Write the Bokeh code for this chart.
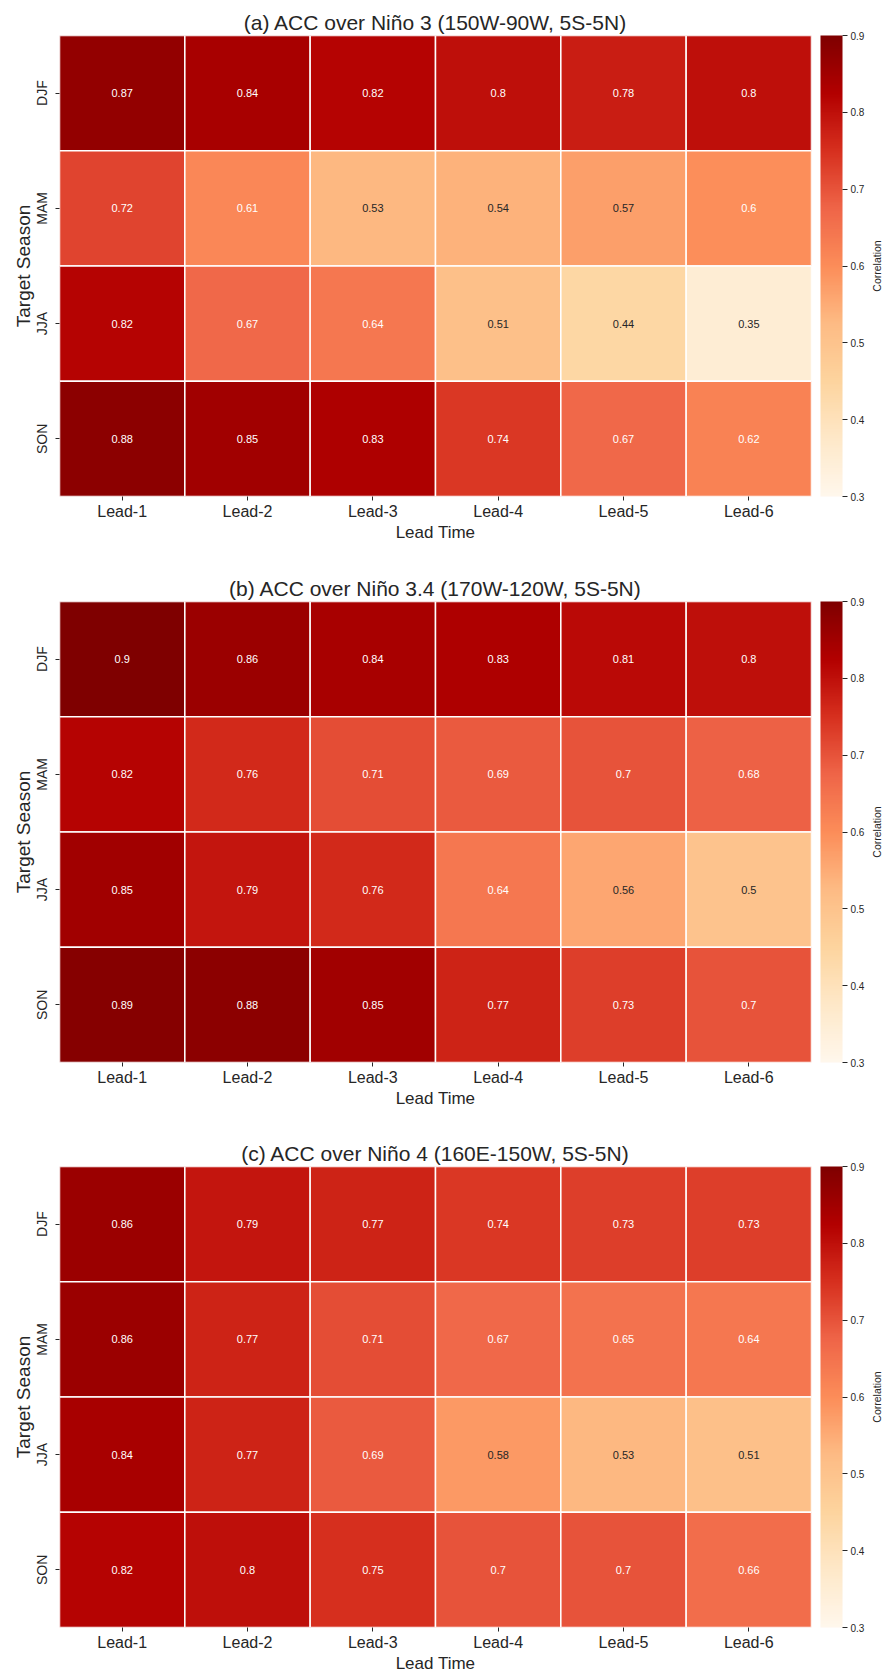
import numpy as np
from bokeh.plotting import figure
from bokeh.models import (ColumnDataSource, LinearColorMapper, ColorBar, FixedTicker, Range1d)
from bokeh.layouts import column, row
from bokeh.embed import file_html
from bokeh.resources import INLINE
from bokeh.core.properties import value

leads = ["Lead-1", "Lead-2", "Lead-3", "Lead-4", "Lead-5", "Lead-6"]
seasons = ["DJF", "MAM", "JJA", "SON"]

titles = [
    "(a) ACC over Niño 3 (150W-90W, 5S-5N)",
    "(b) ACC over Niño 3.4 (170W-120W, 5S-5N)",
    "(c) ACC over Niño 4 (160E-150W, 5S-5N)",
]

acc_nino3 = [
    [0.87, 0.84, 0.82, 0.80, 0.78, 0.80],
    [0.72, 0.61, 0.53, 0.54, 0.57, 0.60],
    [0.82, 0.67, 0.64, 0.51, 0.44, 0.35],
    [0.88, 0.85, 0.83, 0.74, 0.67, 0.62],
]
acc_nino34 = [
    [0.90, 0.86, 0.84, 0.83, 0.81, 0.80],
    [0.82, 0.76, 0.71, 0.69, 0.70, 0.68],
    [0.85, 0.79, 0.76, 0.64, 0.56, 0.50],
    [0.89, 0.88, 0.85, 0.77, 0.73, 0.70],
]
acc_nino4 = [
    [0.86, 0.79, 0.77, 0.74, 0.73, 0.73],
    [0.86, 0.77, 0.71, 0.67, 0.65, 0.64],
    [0.84, 0.77, 0.69, 0.58, 0.53, 0.51],
    [0.82, 0.80, 0.75, 0.70, 0.70, 0.66],
]
cbar_ticks = [0.3, 0.4, 0.5, 0.6, 0.7, 0.8, 0.9]
cbar_label = "Correlation"
vmin, vmax = 0.3, 0.9

# OrRd colormap (matplotlib-style, 256 steps)
base = ['#fff7ec', '#fee8c8', '#fdd49e', '#fdbb84', '#fc8d59',
        '#ef6548', '#d7301f', '#b30000', '#7f0000']
base_rgb = np.array([[int(h[i:i + 2], 16) / 255 for i in (1, 3, 5)] for h in base])
pos = np.linspace(0, 1, len(base))
t = np.linspace(0, 1, 256)
cm = np.stack([np.interp(t, pos, base_rgb[:, k]) for k in range(3)], axis=1)
palette = ['#%02x%02x%02x' % tuple(int(round(c * 255)) for c in r) for r in cm]


def cell_rgb(v):
    f = (v - vmin) / (vmax - vmin)
    idx = int(np.clip(np.floor(f * 255.999), 0, 255))
    return cm[idx]


def text_color(v):
    rgb = cell_rgb(v)
    lin = np.where(rgb <= 0.03928, rgb / 12.92, ((rgb + 0.055) / 1.055) ** 2.4)
    lum = 0.2126 * lin[0] + 0.7152 * lin[1] + 0.0722 * lin[2]
    return "#262626" if lum > 0.408 else "#ffffff"


FONT = "Liberation Sans"
TXT = "#262626"
FRAME_W, FRAME_H = 752, 461
LEFT, RIGHT = 59, 53


def make_panel(title, data, top_border, bottom_border):
    xs, ys, vals, labels, tcols = [], [], [], [], []
    for si, s in enumerate(seasons):
        for li, l in enumerate(leads):
            v = data[si][li]
            xs.append(l)
            ys.append(s)
            vals.append(v)
            labels.append(f"{v:g}")
            tcols.append(text_color(v))
    src = ColumnDataSource(dict(x=xs, y=ys, v=vals, label=labels, tc=tcols))
    mapper = LinearColorMapper(palette=palette, low=vmin, high=vmax)

    p = figure(x_range=leads, y_range=list(reversed(seasons)),
               frame_width=FRAME_W, frame_height=FRAME_H,
               min_border_left=LEFT, min_border_right=RIGHT,
               min_border_top=top_border, min_border_bottom=bottom_border,
               output_backend="svg", toolbar_location=None, tools="")
    p.rect(x="x", y="y", width=1, height=1, source=src,
           fill_color={"field": "v", "transform": mapper},
           line_color="white", line_width=1.5)
    p.text(x="x", y="y", text="label", source=src, text_color="tc",
           text_align="center", text_baseline="middle",
           text_font=value(FONT), text_font_size="11px")

    p.title.text = title
    p.title.align = "center"
    p.title.text_font = FONT
    p.title.text_font_size = "21px"
    p.title.text_font_style = "normal"
    p.title.text_color = TXT
    p.title.standoff = 4

    p.grid.visible = False
    p.outline_line_color = None
    p.background_fill_color = "white"
    p.border_fill_color = "white"
    for ax in (p.xaxis, p.yaxis):
        ax.axis_line_color = None
        ax.major_tick_in = 0
        ax.major_tick_out = 4
        ax.major_tick_line_color = TXT
        ax.minor_tick_line_color = None
        ax.major_label_text_font = FONT
        ax.major_label_text_color = TXT
        ax.axis_label_text_font = FONT
        ax.axis_label_text_color = TXT
        ax.axis_label_text_font_style = "normal"
    p.xaxis.axis_label = "Lead Time"
    p.xaxis.major_label_text_font_size = "16px"
    p.xaxis.axis_label_text_font_size = "17px"
    p.xaxis.major_label_standoff = 2
    p.xaxis.axis_label_standoff = 0
    p.yaxis.axis_label = "Target Season"
    p.yaxis.major_label_orientation = "vertical"
    p.yaxis.major_label_text_font_size = "14px"
    p.yaxis.axis_label_text_font_size = "19px"
    p.yaxis.major_label_standoff = 6
    p.yaxis.axis_label_standoff = -3

    cb = ColorBar(color_mapper=mapper, ticker=FixedTicker(ticks=cbar_ticks),
                  width=22, height=FRAME_H, padding=0, margin=0,
                  location=(9, 0),
                  major_tick_in=0, major_tick_out=5,
                  major_tick_line_color=TXT,
                  major_label_text_font=FONT,
                  major_label_text_font_size="10px",
                  major_label_text_color=TXT,
                  label_standoff=3,
                  bar_line_color=None, border_line_color=None,
                  background_fill_color=None)
    p.add_layout(cb, "right")

    # narrow companion figure that carries the colour bar's rotated label
    q = figure(width=22, frame_height=FRAME_H,
               x_range=Range1d(0, 1), y_range=Range1d(vmin, vmax),
               min_border_left=0, min_border_right=0,
               min_border_top=top_border, min_border_bottom=bottom_border,
               output_backend="svg", toolbar_location=None, tools="")
    q.xaxis.visible = False
    q.grid.visible = False
    q.outline_line_color = None
    q.yaxis.ticker = FixedTicker(ticks=[])
    q.yaxis.axis_line_color = None
    q.yaxis.major_tick_out = 0
    q.yaxis.major_tick_in = 0
    q.yaxis.minor_tick_line_color = None
    q.yaxis.axis_label = cbar_label
    q.yaxis.axis_label_standoff = 5
    q.yaxis.axis_label_text_font = FONT
    q.yaxis.axis_label_text_font_size = "10.5px"
    q.yaxis.axis_label_text_font_style = "normal"
    q.yaxis.axis_label_text_color = TXT
    return row(p, q, spacing=0)


r1 = make_panel(titles[0], acc_nino3, 35, 70)
r2 = make_panel(titles[1], acc_nino34, 35, 69)
r3 = make_panel(titles[2], acc_nino4, 35, 50)

layout = column(r1, r2, r3, spacing=0)
open("out.html", "w").write(file_html(layout, INLINE))
